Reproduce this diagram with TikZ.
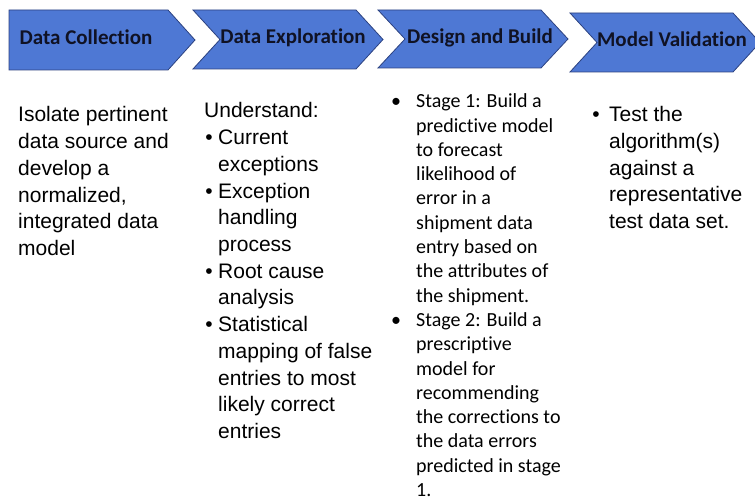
\documentclass[tikz,border=0pt]{standalone}
\usepackage{fontspec}
\setmainfont{Liberation Sans}
\newfontfamily\calibri[Ligatures = NoCommon]{Carlito}
\definecolor{phaseblue}{RGB}{78,120,212}
\definecolor{phaseline}{RGB}{44,66,128}
\definecolor{phasetext}{RGB}{16,18,36}
\tikzset{
    phase/.style = {fill = phaseblue, draw = phaseline, line width = 0.8pt, line join = miter},
    head/.style = {font = \calibri\bfseries\fontsize{21}{25}\selectfont, text = phasetext, inner sep = 0pt, anchor = base},
    body/.style = {font = \fontsize{21}{25}\selectfont, text = black, inner sep = 0pt, anchor = base west},
    note/.style = {font = \calibri\fontsize{20}{24}\selectfont, text = black, inner sep = 0pt, anchor = base west}
}
\begin{document}
\begin{tikzpicture}[x = 1pt, y = -1pt]
    \useasboundingbox (0,0) rectangle (755,500);
    \clip (0,0) rectangle (755,500);
    \draw[phase] (9,10) -- (168,10) -- (195,40) -- (168,70) -- (9,70) -- cycle;
    \foreach \l/\t/\b in {193/10/69, 378/10/68, 570/13/72}
        \draw[phase] (\l,\t) -- (\l+163,\t) -- (\l+190,{(\t+\b)/2}) -- (\l+163,\b) -- (\l,\b) -- (\l+27,{(\t+\b)/2}) -- cycle;
    \node[head] (collection) at (86,45) {Data Collection};
    \node[head] (exploration) at (293,43.5) {Data Exploration};
    \node[head] (build) at (480,43.5) {Design and Build};
    \node[head] (validation) at (672,46.5) {Model Validation};
    \foreach \txt [count = \i] in {Isolate pertinent, data source and, develop a, {normalized,}, integrated data, model}
        \node[body] (collect-\i) at (18,122 + 26.7*\i - 26.7) {\txt};
    \foreach \x/\txt [count = \i] in {204/Understand:, 218/Current, 218/exceptions, 218/Exception, 218/handling, 218/process, 218/Root cause, 218/analysis, 218/Statistical, 218/mapping of false, 218/entries to most, 218/likely correct, 218/entries}
        \node[body] (explore-\i) at (\x,118 + 26.7*\i - 26.7) {\txt};
    \foreach \i in {2, 4, 7, 9}
        \node[body, anchor = base] (explore-dot-\i) at (209,118 + 26.7*\i - 26.7) {\textbullet};
    \foreach \txt [count = \i] in {Stage 1: Build a, predictive model, to forecast, likelihood of, error in a, shipment data, entry based on, the attributes of, the shipment., Stage 2: Build a, prescriptive, model for, recommending, the corrections to, the data errors, predicted in stage, 1.}
        \node[note] (build-\i) at (416,107.7 + 24.3*\i - 24.3) {\txt};
    \foreach \i in {1, 10}
        \node[note, anchor = base] (build-dot-\i) at (396,107.7 + 24.3*\i - 24.3) {\textbullet};
    \foreach \txt [count = \i] in {Test the, algorithm(s), against a, representative, test data set.}
        \node[body] (test-\i) at (609,121.7 + 26.7*\i - 26.7) {\txt};
    \node[body, anchor = base] (test-dot) at (596,121.7) {\textbullet};
\end{tikzpicture}
\end{document}
